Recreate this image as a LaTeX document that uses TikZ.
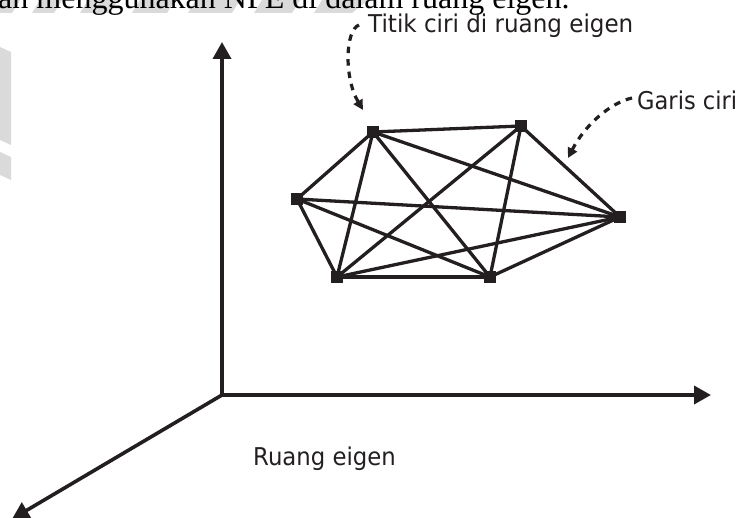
\documentclass[tikz,border=0pt]{standalone}
\usepackage{fontspec}
\setmainfont{Liberation Serif}
\newfontfamily\labelfont{DejaVu Sans}
\usetikzlibrary{arrows.meta}
\definecolor{ink}{RGB}{35,31,32}
\definecolor{wm}{RGB}{218,218,218}
\begin{document}
\begin{tikzpicture}[x=1pt,y=-1pt,
  axis/.style={draw=ink, line width=3.6pt, miter limit=10},
  edge/.style={draw=ink, line width=3.3pt},
  pt/.style={fill=ink, rectangle, minimum size=11.5pt, inner sep=0pt},
  pointer/.style={draw=ink, line width=3.2pt, dash pattern=on 6.5pt off 6pt, -{Triangle[length=10pt,width=10pt]}},
  lbl/.style={font=\labelfont\fontsize{24.5}{28}\selectfont, anchor=base west, inner sep=0pt, text=ink},
  wmark/.style={fill=wm, draw=none}]
\clip (0,0) rectangle (741,518);
% faint watermark
\fill[wmark] (0,0) -- (20,0) -- (12,13) -- (0,13) -- cycle;
\fill[wmark] (40,0) -- (62,0) -- (54,13) -- (32,13) -- cycle;
\fill[wmark] (88,0) -- (118,0) -- (110,13) -- (80,13) -- cycle;
\fill[wmark] (140,0) -- (175,0) -- (167,13) -- (132,13) -- cycle;
\fill[wmark] (196,0) -- (240,0) -- (232,13) -- (188,13) -- cycle;
\fill[wmark] (262,0) -- (300,0) -- (292,13) -- (254,13) -- cycle;
\fill[wmark] (322,0) -- (368,0) -- (352,13) -- (314,13) -- cycle;
\fill[wmark] (0,47) -- (11,52) -- (11,145) -- (0,140) -- cycle;
\fill[wmark] (0,152) -- (11,157) -- (11,180) -- (0,175) -- cycle;
% cut-off caption line
\node[anchor=base west, inner sep=0pt, font=\fontsize{32}{36}\selectfont] (cap) at (-2,9) {an menggunakan NPE di dalam ruang eigen.};
% axes
\coordinate (O) at (222,395);
\coordinate (Y) at (222,42);
\coordinate (X) at (711,395);
\coordinate (Z) at (12,519);
\draw[axis, {Triangle[length=17pt,width=18pt]}-{Triangle[length=17pt,width=18pt]}] (Y) -- (O) -- (X);
\draw[axis, -{Triangle[length=17pt,width=18pt]}] (O) -- (Z);
% feature points
\node[pt] (A) at (373,132) {};
\node[pt] (B) at (521,126) {};
\node[pt] (C) at (297,199) {};
\node[pt] (D) at (620,217) {};
\node[pt] (E) at (337,277) {};
\node[pt] (F) at (490,277) {};
\foreach \a/\b in {A/B,A/C,A/E,A/F,A/D,B/E,B/F,B/D,C/D,C/E,C/F,E/D,E/F,F/D}
  \draw[edge] (\a.center) -- (\b.center);
\foreach \n in {A,B,C,D,E,F}
  \fill[ink] ([shift={(-5.75pt,-5.75pt)}]\n.center) rectangle ([shift={(5.75pt,5.75pt)}]\n.center);
% labels
\node[lbl] (t1) at (368,33) {\scalebox{0.94}[1]{Titik ciri di ruang eigen}};
\node[lbl] (t2) at (637,110) {\scalebox{0.92}[1]{Garis ciri}};
\node[lbl] (t3) at (253,465) {\scalebox{0.93}[1]{Ruang eigen}};
% pointers
\coordinate (p1) at (359,25);
\coordinate (p2) at (632,98);
\draw[pointer] (p1) .. controls (345,30) and (344,78) .. (363,110);
\draw[pointer] (p2) .. controls (610,103) and (585,125) .. (568,158);
\end{tikzpicture}
\end{document}
